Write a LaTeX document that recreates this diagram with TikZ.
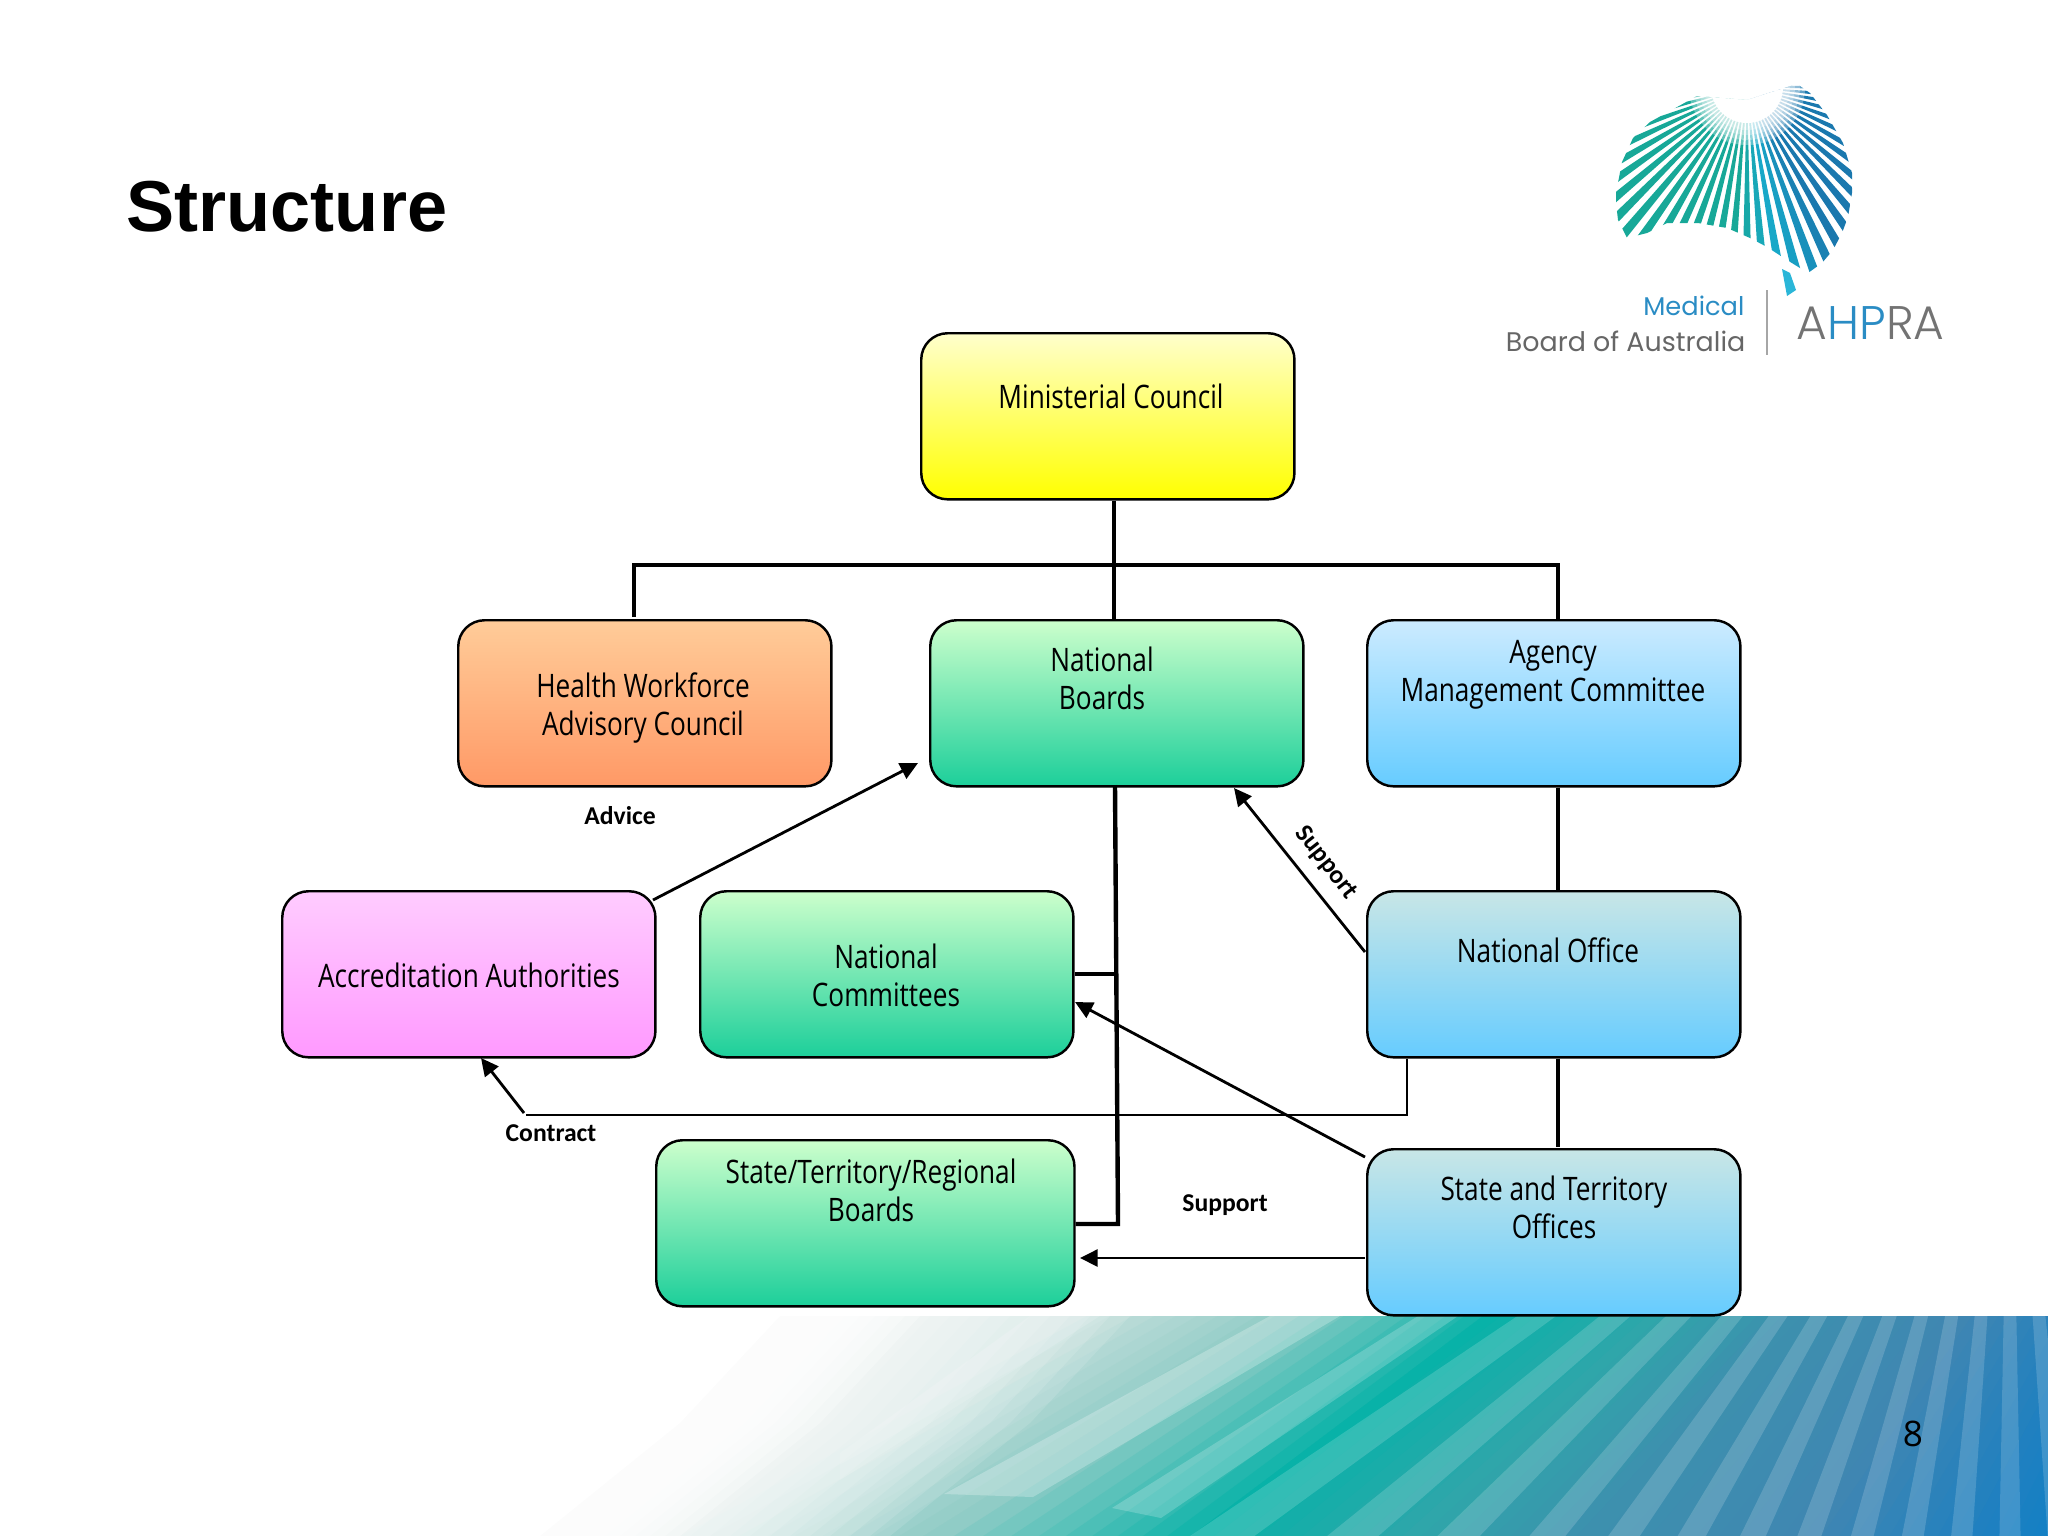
\documentclass[tikz,border=0pt]{standalone}
\usepackage{fontspec}
\usetikzlibrary{arrows.meta}
\setmainfont{Open Sans}
\newfontfamily\boxfont{Open Sans}[FakeStretch=0.81]
\newfontfamily\tagfont{Carlito}[BoldFont=Carlito Bold]
\newfontfamily\titlefont{Liberation Sans}
\newfontfamily\logofont{Poppins}
\newfontfamily\logothin{Poppins}[UprightFont=* Light]
\definecolor{logoteal}{HTML}{17A898}
\definecolor{logoblue}{HTML}{1A78AE}
\definecolor{logocyan}{HTML}{2AB6D8}
\definecolor{logoray}{HTML}{18A8C8}
\definecolor{logotext}{HTML}{2A8CC4}
\definecolor{bandb}{HTML}{C8E0DD}
\definecolor{bandc}{HTML}{90CCC6}
\definecolor{bandd}{HTML}{08B2A8}
\definecolor{bande}{HTML}{2FA6AA}
\definecolor{bandf}{HTML}{3D90AE}
\definecolor{bandg}{HTML}{3F86B2}
\definecolor{bandh}{HTML}{2080C0}
\definecolor{bandi}{HTML}{0A80C8}
\definecolor{boxgreen}{HTML}{1CCF9A}
\definecolor{palegreen}{HTML}{CCFFCC}
\definecolor{paleyellow}{HTML}{FFFFCC}
\definecolor{paleblue}{HTML}{C8E6E6}
\definecolor{skyblue}{HTML}{CCEBFF}
\definecolor{midblue}{HTML}{66CCFF}
\definecolor{boxorange}{HTML}{FF9966}
\definecolor{paleorange}{HTML}{FFCC99}
\definecolor{boxpink}{HTML}{FF99FF}
\definecolor{palepink}{HTML}{FFCCFF}
\tikzset{
  box/.style={draw=black,line width=0.7pt,rounded corners=7.5pt,minimum width=3.73cm,minimum height=1.66cm,inner sep=0pt,anchor=north west},
  boxtext/.style={font=\boxfont\fontsize{9.2}{10.8}\selectfont,align=center,inner sep=0pt},
  tag/.style={font=\tagfont\bfseries\fontsize{7.3}{8}\selectfont,inner sep=0pt},
  thick line/.style={line width=1.25pt},
  thin line/.style={line width=0.6pt},
  arrow line/.style={line width=0.8pt,-{Triangle[length=5pt,width=4.8pt]}},
}
\begin{document}
\begin{tikzpicture}[x=0.01cm,y=-0.01cm]
  \useasboundingbox (0,0) rectangle (2048,1536);

  % bottom band
  \begin{scope}
    \clip (0,1316) rectangle (2048,1536);
    \fill[bandb] (0,1316) rectangle (2048,1536);
    \begin{scope}[shift={(2489,558)}]
      \foreach \from/\to/\ca/\cb in {28/32/bandb/bandc,32/37/bandc/bandd,37/42/bandd/bande,42/47/bande/bandf,47/55/bandf/bandg,55/62/bandg/bandh,62/68/bandh/bandi} {
        \foreach \t in {0,10,...,100} {
          \pgfmathsetmacro{\ang}{180-(\from+(\to-\from)*\t/100)}
          \fill[\cb!\t!\ca] (0,0) -- (\ang:3000) -- (80:3000) -- cycle;
        }
      }
    \end{scope}
    \begin{scope}[shift={(2010,985)}]
      \foreach \a in {85,90,...,145}
        \fill[white,opacity=0.16] (\a-1.1:300) -- (\a-1.1:1000) -- (\a+1.1:1000) -- (\a+1.1:300) -- cycle;
    \end{scope}
    \fill[white,opacity=0.2] (1418,1316) -- (1112,1508) -- (1161,1518) -- (1458,1316) -- cycle;
    \fill[white,opacity=0.25] (1270,1316) -- (944,1494) -- (1033,1497) -- (1340,1316) -- cycle;
    \fill[white,opacity=0.15] (1030,1316) -- (840,1453) -- (840,1480) -- (1100,1316) -- cycle;
    % fade to white on the left, the pale steps first
    \foreach \k in {330,310,...,130}
      \fill[white,opacity=0.12] (0,1316) -- (800+\k,1316) -- (700+\k,1423) -- (560+\k,1536) -- (0,1536) -- cycle;
    \foreach \k in {120,105,...,0}
      \fill[white,opacity=0.3] (0,1316) -- (800+\k,1316) -- (700+\k,1423) -- (560+\k,1536) -- (0,1536) -- cycle;
    \fill[white] (0,1316) -- (780,1316) -- (680,1423) -- (540,1536) -- (0,1536) -- cycle;
  \end{scope}

  % logo rays
  \begin{scope}
    \clip (1697,96) -- (1650,122) -- (1633,138) -- (1622,162) -- (1616,193) -- (1616,203)
      -- (1618,220) -- (1627,238) -- (1647,233) -- (1667,223) -- (1698,223) -- (1727,228)
      -- (1750,238) -- (1767,247) -- (1787,260) -- (1808,273) -- (1822,263) -- (1833,250)
      -- (1842,233) -- (1848,217) -- (1852,193) -- (1852,173) -- (1843,143) -- (1827,115)
      -- (1810,93) -- (1797,84) -- (1747,100) -- cycle;
    \begin{scope}[shift={(1747,87)}]
      \foreach \a in {-10,-5,...,190} {
        \pgfmathsetmacro{\p}{max(0,min(100,(\a-80)*100/15))}
        \pgfmathsetmacro{\q}{max(0,min(100,(\a-62)*100/16))}
        \fill[logoteal!\p!logoray!\q!logoblue] (\a-1.35:0) -- (\a-1.35:260) -- (\a+1.35:260) -- cycle;
      }
      \foreach \r in {58,53,48,43}
        \fill[white,opacity=0.3] (0,0) circle [radius=\r];
      \fill[white] (0,0) circle [radius=36];
    \end{scope}
  \end{scope}
  \fill[logocyan] (1782,269) -- (1790,273) -- (1796,290) -- (1787,296) -- cycle;
  \draw[gray!70,line width=0.4pt] (1767,290) -- (1767,355);
  \node[font=\logofont\fontsize{7.3}{9}\selectfont,text=logotext,anchor=base east,inner sep=0pt] (medical) at (1745,315) {Medical};
  \node[font=\logofont\fontsize{7.65}{9}\selectfont,text=black!60,anchor=base east,inner sep=0pt] (moba) at (1746,351) {Board of Australia};
  \node[font=\logothin\fontsize{13.4}{16}\selectfont,text=black!55,anchor=base west,inner sep=0pt] (ahpra) at (1796,339) {A\textcolor{logotext}{HP}RA};

  % title and page number
  \node[font=\titlefont\bfseries\fontsize{20.5}{24}\selectfont,anchor=base west,inner sep=0pt] (title) at (126,231) {Structure};
  \node[font=\fontsize{10}{12}\selectfont,inner sep=0pt] (page) at (1913,1434) {8};

  % boxes
  \node[box,top color=paleyellow,bottom color=yellow] (mc) at (920,332) {};
  \node[box,top color=paleorange,bottom color=boxorange] (hw) at (457,619) {};
  \node[box,top color=palegreen,bottom color=boxgreen] (nb) at (929,619) {};
  \node[box,top color=skyblue,bottom color=midblue] (amc) at (1366,619) {};
  \node[box,top color=palepink,bottom color=boxpink] (aa) at (281,890) {};
  \node[box,top color=palegreen,bottom color=boxgreen] (nc) at (699,890) {};
  \node[box,top color=paleblue,bottom color=midblue] (no) at (1366,890) {};
  \node[box,top color=palegreen,bottom color=boxgreen,minimum width=4.18cm] (sb) at (655,1139) {};
  \node[box,top color=paleblue,bottom color=midblue] (sto) at (1366,1148) {};

  % box texts
  \node[boxtext] (mct) at (1111,396) {Ministerial Council};
  \node[boxtext] (hwt) at (643,708) {Health Workforce\\Advisory Council};
  \node[boxtext] (nbt) at (1102,678) {National\\Boards};
  \node[boxtext] (amct) at (1553,675) {Agency\\Management Committee};
  \node[boxtext] (aat) at (469,975) {Accreditation Authorities};
  \node[boxtext] (nct) at (886,975) {National\\Committees};
  \node[boxtext] (not) at (1548,950) {National Office};
  \node[boxtext] (sbt) at (871,1190) {State/Territory/Regional\\Boards};
  \node[boxtext] (stot) at (1554,1207) {State and Territory\\Offices};

  % connector points
  \coordinate (barl) at (634,565);
  \coordinate (barc) at (1114,565);
  \coordinate (barr) at (1558,565);
  \coordinate (hwtop) at (634,617);
  \coordinate (nbtop) at (1115,785);
  \coordinate (nbfoot) at (1118,1224);
  \coordinate (nctie) at (1116,974);
  \coordinate (ststop) at (1558,1147);
  \coordinate (conbend) at (1407,1115);
  \coordinate (conend) at (526,1115);
  \coordinate (aafrom) at (653,900);
  \coordinate (nbto) at (918,763);
  \coordinate (nofrom) at (1365,952);
  \coordinate (nbsup) at (1234,788);
  \coordinate (confrom) at (524,1113);
  \coordinate (aaback) at (481,1058);
  \coordinate (stofrom) at (1365,1157);
  \coordinate (ncto) at (1075,1002);
  \coordinate (stolow) at (1365,1258);
  \coordinate (sbto) at (1080,1258);

  % reporting lines
  \draw[thick line] (barc |- mc.south) -- (barc);
  \draw[thick line] (hwtop) -- (barl) -- (barr) -- (barr |- amc.north);
  \draw[thick line] (barc) -- (barc |- nb.north);
  \draw[thick line] (nbtop) -- (nbfoot) -- (nbfoot -| sb.east);
  \draw[thick line] (nc.east |- nctie) -- (nctie);
  \draw[thick line] (barr |- amc.south) -- (barr |- no.north);
  \draw[thick line] (barr |- no.south) -- (ststop);
  \draw[thin line] (conbend |- no.south) -- (conbend) -- (conend);

  % arrows
  \draw[arrow line] (aafrom) -- (nbto);
  \draw[arrow line] (nofrom) -- (nbsup);
  \draw[arrow line] (confrom) -- (aaback);
  \draw[arrow line] (stofrom) -- (ncto);
  \draw[arrow line] (stolow) -- (sbto);

  % labels
  \node[tag] (advice) at (620,816) {Advice};
  \node[tag] (contract) at (551,1133) {Contract};
  \node[tag] (support) at (1225,1205) {Support};
  \node[tag,rotate=-52] (supportr) at (1326,863) {Support};
\end{tikzpicture}
\end{document}
